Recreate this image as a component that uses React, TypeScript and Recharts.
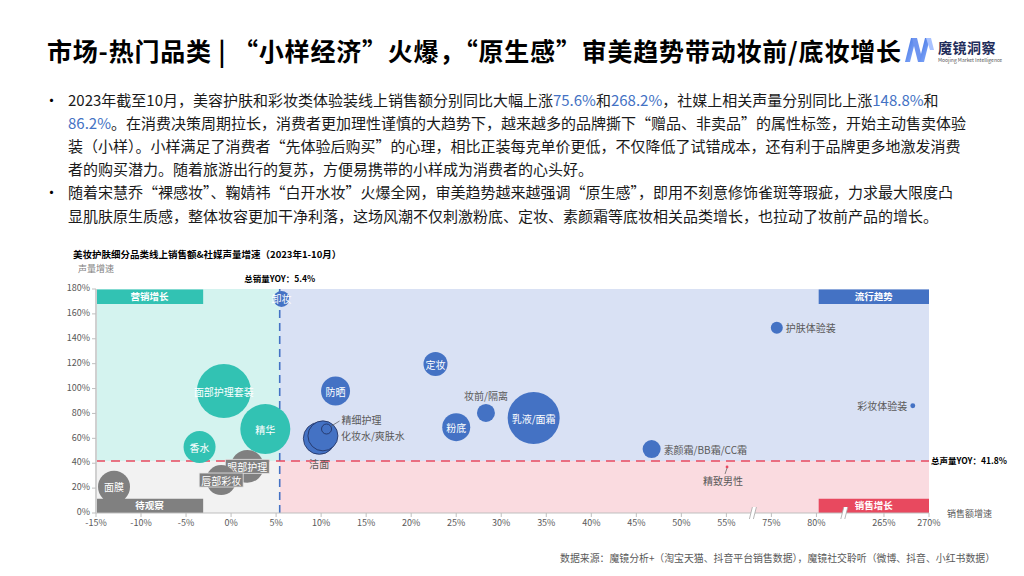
import React from "react";
import {
  ScatterChart,
  Scatter,
  XAxis,
  YAxis,
  ZAxis,
  ReferenceArea,
  ReferenceLine,
  ReferenceDot,
} from "recharts";

const FONT = '"Noto Sans CJK SC", "Noto Sans", sans-serif';

// 销售额增速(%) / 声量增速(%) / 气泡大小
const marketingNames = ["面部护理套装", "精华", "香水"];
const marketingSales = [-0.8, 3.8, -3.5];
const marketingVoice = [98, 67.5, 53];
const marketingSize = [729, 625, 256];

const watchNames = ["面膜", "眼部护理", "唇部彩妆"];
const watchSales = [-13, 1.8, -1.1];
const watchVoice = [21, 37.5, 26.5];
const watchSize = [256, 270, 225];

const trendNames = [
  "卸妆",
  "防晒",
  "洁面",
  "化妆水/爽肤水",
  "精细护理",
  "定妆",
  "粉底",
  "妆前/隔离",
  "乳液/面霜",
  "素颜霜/BB霜/CC霜",
  "护肤体验装",
  "彩妆体验装",
];
const trendSales = [5.6, 11.6, 9.8, 10.2, 10.6, 22.7, 25.0, 28.3, 33.6, 46.7, 75.6, 268.2];
const trendVoice = [172, 98, 60, 62, 67.5, 119.7, 69, 80.4, 76.3, 51.4, 148.8, 86.2];
const trendSize = [64, 210, 256, 225, 25, 144, 196, 81, 676, 81, 36, 6];

const salesNames = ["精致男性"];
const salesSales = [55.3];
const salesVoice = [37];
const salesSize = [2];

const totalSalesYoy = 5.4;
const totalVoiceYoy = 41.8;

const xTicks = [-15, -10, -5, 0, 5, 10, 15, 20, 25, 30, 35, 40, 45, 50, 55, 75, 80, 265, 270];
const yTicks = [0, 20, 40, 60, 80, 100, 120, 140, 160, 180];

// broken axis: 55→75 and 80→265 are squeezed
const xTickPos = xTicks.map((t, i) => (i <= 16 ? i : i + 0.5));
const X_MAX = xTickPos[xTickPos.length - 1];

function toAxis(v: number) {
  if (v <= xTicks[0]) return xTickPos[0];
  for (let i = 1; i < xTicks.length; i++) {
    if (v <= xTicks[i]) {
      const t = (v - xTicks[i - 1]) / (xTicks[i] - xTicks[i - 1]);
      return xTickPos[i - 1] + t * (xTickPos[i] - xTickPos[i - 1]);
    }
  }
  return X_MAX;
}

function fmtX(p: number) {
  const i = xTickPos.findIndex((q) => Math.abs(q - p) < 1e-6);
  return i >= 0 ? `${xTicks[i]}%` : "";
}

function rows(names: string[], sales: number[], voice: number[], size: number[]) {
  return names.map((name, i) => ({ name, x: toAxis(sales[i]), y: voice[i], z: size[i] }));
}

const marketingData = rows(marketingNames, marketingSales, marketingVoice, marketingSize);
const watchData = rows(watchNames, watchSales, watchVoice, watchSize);
const trendData = rows(trendNames, trendSales, trendVoice, trendSize);
const salesData = rows(salesNames, salesSales, salesVoice, salesSize);

const C = {
  teal: "#32c2b3",
  blue: "#4472c4",
  grey: "#808080",
  red: "#e8495f",
  bgTeal: "#d4f3ef",
  bgBlue: "#d9e1f4",
  bgGrey: "#f2f2f2",
  bgPink: "#fadbe0",
  text: "#595959",
};

const placement: Record<string, string> = {
  精细护理: "leader-right",
  "化妆水/爽肤水": "right",
  洁面: "below",
  "妆前/隔离": "above",
  "素颜霜/BB霜/CC霜": "right",
  护肤体验装: "right",
  彩妆体验装: "left",
  精致男性: "leader-down",
};
const outlined = ["洁面", "化妆水/爽肤水", "精细护理"];
const boxed = ["眼部护理", "唇部彩妆"];

function makeBubble(color: string) {
  return (props: any) => {
    const { cx, cy, payload } = props;
    const r = props.width ? props.width / 2 : Math.sqrt((props.size ?? 64) / Math.PI);
    const name: string = payload.name;
    const place = placement[name] ?? "inside";
    const isOut = outlined.includes(name);
    const common = { fontSize: 10, fontFamily: FONT, dominantBaseline: "central" as const };
    let label: React.ReactNode = null;
    if (place === "inside") {
      const w = name.length * 10 + 4;
      label = (
        <g>
          {boxed.includes(name) && (
            <rect x={cx - w / 2} y={cy - 7} width={w} height={14} fill={color} stroke="#e6e6e6" strokeWidth={0.8} />
          )}
          <text x={cx} y={cy} textAnchor="middle" fill="#fff" {...common}>
            {name}
          </text>
        </g>
      );
    } else if (place === "right") {
      label = (
        <text x={cx + r + 3} y={cy} textAnchor="start" fill={C.text} {...common}>
          {name}
        </text>
      );
    } else if (place === "left") {
      label = (
        <text x={cx - r - 3} y={cy} textAnchor="end" fill={C.text} {...common}>
          {name}
        </text>
      );
    } else if (place === "above") {
      label = (
        <text x={cx} y={cy - r - 8} textAnchor="middle" fill={C.text} {...common}>
          {name}
        </text>
      );
    } else if (place === "below") {
      label = (
        <text x={cx} y={cy + r + 9} textAnchor="middle" fill={C.text} {...common}>
          {name}
        </text>
      );
    } else if (place === "leader-right") {
      label = (
        <g>
          <line x1={cx + r * 0.8} y1={cy - r * 0.5} x2={cx + 13} y2={cy - 8} stroke={C.text} strokeWidth={0.7} />
          <text x={cx + 15} y={cy - 10} textAnchor="start" fill={C.text} {...common}>
            {name}
          </text>
        </g>
      );
    } else if (place === "leader-down") {
      label = (
        <g>
          <line x1={cx} y1={cy + 1} x2={cx - 2} y2={cy + 7} stroke={C.text} strokeWidth={0.7} />
          <text x={cx - 4} y={cy + 14} textAnchor="middle" fill={C.text} {...common}>
            {name}
          </text>
        </g>
      );
    }
    return (
      <g>
        <circle
          cx={cx}
          cy={cy}
          r={r}
          fill={color}
          stroke={isOut ? "#1f2d5a" : "none"}
          strokeWidth={isOut ? 0.8 : 0}
        />
        {label}
      </g>
    );
  };
}

const breakMark = (props: any) => {
  const { cx, cy } = props;
  return (
    <g>
      <polygon points={`${cx - 4},${cy + 6} ${cx - 1},${cy - 6} ${cx + 3},${cy - 6} ${cx},${cy + 6}`} fill="#fff" />
      <line x1={cx - 4} y1={cy + 6} x2={cx - 1} y2={cy - 6} stroke="#a6a6a6" strokeWidth={0.8} />
      <line x1={cx} y1={cy + 6} x2={cx + 3} y2={cy - 6} stroke="#a6a6a6" strokeWidth={0.8} />
    </g>
  );
};

const boxLabel = (value: string) => ({
  value,
  position: "center" as const,
  fill: "#fff",
  fontSize: 9.5,
  fontWeight: 700,
  fontFamily: FONT,
});

const xSplit = toAxis(totalSalesYoy);
const boxW = 2.38;

function BubbleChart() {
  return (
    <ScatterChart
      width={1024}
      height={576}
      margin={{ top: 289, right: 95, bottom: 33, left: 56 }}
      style={{ position: "absolute", left: 0, top: 0 }}
    >
      <XAxis
        type="number"
        dataKey="x"
        domain={[0, X_MAX]}
        ticks={xTickPos}
        interval={0}
        tickFormatter={fmtX}
        tick={{ fontSize: 9, fill: C.text, fontFamily: FONT }}
        axisLine={{ stroke: "#bfbfbf" }}
        tickLine={{ stroke: "#bfbfbf" }}
        tickSize={4}
        tickMargin={3}
        height={30}
      />
      <YAxis
        type="number"
        dataKey="y"
        domain={[0, 180]}
        ticks={yTicks}
        interval={0}
        tickFormatter={(v: number) => `${v}%`}
        tick={{ fontSize: 9, fill: C.text, fontFamily: FONT, dy: -1 }}
        axisLine={{ stroke: "#d0d0d0", strokeWidth: 2 }}
        tickLine={{ stroke: "#bfbfbf" }}
        tickSize={4}
        width={40}
      />
      <ZAxis type="number" dataKey="z" domain={[0, 1000]} range={[0, 1000 * Math.PI]} />

      <ReferenceArea x1={0} x2={xSplit} y1={totalVoiceYoy} y2={180} fill={C.bgTeal} fillOpacity={1} />
      <ReferenceArea x1={xSplit} x2={X_MAX} y1={totalVoiceYoy} y2={180} fill={C.bgBlue} fillOpacity={1} />
      <ReferenceArea x1={0} x2={xSplit} y1={0} y2={totalVoiceYoy} fill={C.bgGrey} fillOpacity={1} />
      <ReferenceArea x1={xSplit} x2={X_MAX} y1={0} y2={totalVoiceYoy} fill={C.bgPink} fillOpacity={1} />

      <ReferenceArea x1={0} x2={boxW} y1={168} y2={179.5} fill={C.teal} fillOpacity={1} label={boxLabel("营销增长")} />
      <ReferenceArea x1={X_MAX - 2.45} x2={X_MAX} y1={168} y2={179.5} fill={C.blue} fillOpacity={1} label={boxLabel("流行趋势")} />

      <ReferenceLine
        x={xSplit}
        stroke={C.blue}
        strokeWidth={1.6}
        strokeDasharray="8 5"
        label={{ value: `总销量YOY：${totalSalesYoy}%`, position: "top", offset: 7, fill: "#000", fontSize: 8.5, fontWeight: 700, fontFamily: FONT }}
      />
      <ReferenceLine
        y={totalVoiceYoy}
        stroke={C.red}
        strokeWidth={1.6}
        strokeDasharray="9 6"
        label={{ value: `总声量YOY：${totalVoiceYoy}%`, position: "right", offset: 2, fill: "#000", fontSize: 8.5, fontWeight: 700, fontFamily: FONT }}
      />

      <Scatter data={watchData} fill={C.grey} shape={makeBubble(C.grey)} isAnimationActive={false} />
      <Scatter data={marketingData} fill={C.teal} shape={makeBubble(C.teal)} isAnimationActive={false} />
      <Scatter data={trendData} fill={C.blue} shape={makeBubble(C.blue)} isAnimationActive={false} />
      <Scatter data={salesData} fill={C.red} shape={makeBubble(C.red)} isAnimationActive={false} />

      <ReferenceArea x1={0} x2={boxW} y1={0} y2={11.5} fill={C.grey} fillOpacity={1} label={boxLabel("待观察")} />
      <ReferenceArea x1={X_MAX - 2.45} x2={X_MAX} y1={0} y2={11.5} fill={C.red} fillOpacity={1} label={boxLabel("销售增长")} />

      <ReferenceDot x={14.6} y={0} r={0} ifOverflow="visible" shape={breakMark} />
      <ReferenceDot x={16.63} y={0} r={0} ifOverflow="visible" shape={breakMark} />
    </ScatterChart>
  );
}

const blue = (s: string) => <span style={{ color: C.blue }}>{s}</span>;

const paragraphs: React.ReactNode[][] = [
  [
    <>
      2023年截至10月，美容护肤和彩妆类体验装线上销售额分别同比大幅上涨{blue("75.6%")}和{blue("268.2%")}，社媒上相关声量分别同比上涨{blue("148.8%")}和
    </>,
    <>
      {blue("86.2%")}。在消费决策周期拉长，消费者更加理性谨慎的大趋势下，越来越多的品牌撕下“赠品、非卖品”的属性标签，开始主动售卖体验
    </>,
    <>装（小样）。小样满足了消费者“先体验后购买”的心理，相比正装每克单价更低，不仅降低了试错成本，还有利于品牌更多地激发消费</>,
    <>者的购买潜力。随着旅游出行的复苏，方便易携带的小样成为消费者的心头好。</>,
  ],
  [
    <>随着宋慧乔“裸感妆”、鞠婧祎“白开水妆”火爆全网，审美趋势越来越强调“原生感”，即用不刻意修饰雀斑等瑕疵，力求最大限度凸</>,
    <>显肌肤原生质感，整体妆容更加干净利落，这场风潮不仅刺激粉底、定妆、素颜霜等底妆相关品类增长，也拉动了妆前产品的增长。</>,
  ],
];

function Logo() {
  return (
    <div style={{ position: "absolute", left: 903, top: 36 }}>
      <svg width={32} height={26} style={{ position: "absolute", left: 0, top: 0 }}>
        <defs>
          <linearGradient id="lg" x1="0" y1="0" x2="1" y2="1">
            <stop offset="0" stopColor="#3d6fe0" />
            <stop offset="1" stopColor="#8fb3ff" />
          </linearGradient>
        </defs>
        <polygon points="2,26 8,2 13,2 7,26" fill="url(#lg)" />
        <polygon points="9,2 14,2 20,26 15,26" fill="#6f95f0" />
        <polygon points="16,26 22,2 27,2 21,26" fill="url(#lg)" />
        <polygon points="23,2 28,2 31,14 27,14" fill="#a9c2ff" />
      </svg>
      <div style={{ position: "absolute", left: 35, top: 1, fontSize: 14, fontWeight: 700, color: "#1f2d5a", whiteSpace: "nowrap", letterSpacing: 0.5 }}>
        魔镜洞察
      </div>
      <div style={{ position: "absolute", left: 35, top: 20, fontSize: 5, color: "#555", whiteSpace: "nowrap" }}>
        Moojing Market Intelligence
      </div>
    </div>
  );
}

export default function App() {
  let lineIdx = 0;
  return (
    <div
      style={{
        position: "fixed",
        left: 0,
        top: 0,
        width: 1024,
        height: 576,
        background: "#fff",
        fontFamily: FONT,
        overflow: "hidden",
      }}
    >
      <div
        style={{
          position: "absolute",
          left: 47,
          top: 34,
          fontSize: 25,
          fontWeight: 700,
          color: "#000",
          whiteSpace: "nowrap",
          lineHeight: "32px",
          letterSpacing: 0.8,
        }}
      >
        市场-热门品类 | “小样经济”火爆，“原生感”审美趋势带动妆前/底妆增长
      </div>
      <Logo />

      {paragraphs.map((lines, pi) => (
        <React.Fragment key={pi}>
          {lines.map((ln, li) => {
            const top = 87.5 + lineIdx * 23.2;
            lineIdx++;
            return (
              <React.Fragment key={li}>
                {li === 0 && (
                  <div style={{ position: "absolute", left: 44, top, fontSize: 15, lineHeight: "23px", color: "#000" }}>•</div>
                )}
                <div
                  style={{
                    position: "absolute",
                    left: 68,
                    top,
                    fontSize: 15,
                    lineHeight: "23px",
                    color: "#1a1a1a",
                    whiteSpace: "nowrap",
                  }}
                >
                  {ln}
                </div>
              </React.Fragment>
            );
          })}
        </React.Fragment>
      ))}

      <BubbleChart />

      <div style={{ position: "absolute", left: 73, top: 247, fontSize: 9.5, fontWeight: 700, color: "#000", whiteSpace: "nowrap" }}>
        美妆护肤细分品类线上销售额&社媒声量增速（2023年1-10月）
      </div>
      <div style={{ position: "absolute", left: 78, top: 262, fontSize: 9, color: "#7f7f7f", whiteSpace: "nowrap" }}>
        声量增速
      </div>
      <div style={{ position: "absolute", left: 947, top: 507, fontSize: 9, color: C.text, whiteSpace: "nowrap" }}>
        销售额增速
      </div>
      <div style={{ position: "absolute", left: 560, top: 551, fontSize: 9.9, color: C.text, whiteSpace: "nowrap" }}>
        数据来源：魔镜分析+（淘宝天猫、抖音平台销售数据），魔镜社交聆听（微博、抖音、小红书数据）
      </div>
    </div>
  );
}
